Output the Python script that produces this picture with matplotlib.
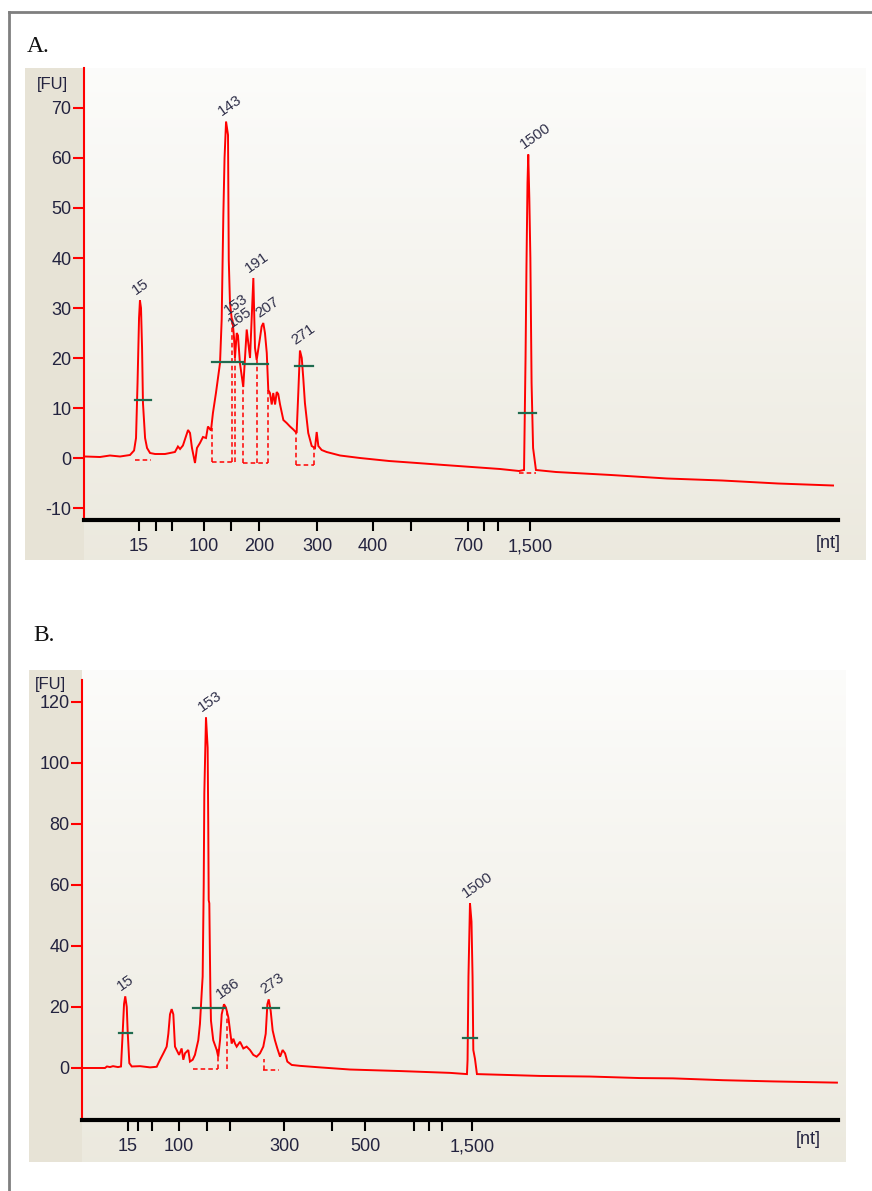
import numpy as np
import matplotlib
matplotlib.use('Agg')
import matplotlib.pyplot as plt
from matplotlib import font_manager
from matplotlib.patches import Rectangle
from matplotlib.lines import Line2D

W, H = 872, 1191

# ---------------- Panel A data (migration time [s] vs fluorescence [FU]) ----------------
a_time = [19.07, 20.06, 20.72, 21.39, 22.05, 22.32, 22.45, 22.55, 22.65, 22.71,
          22.78, 22.85, 22.91, 23.05, 23.18, 23.38, 23.71, 24.37, 25.03, 25.23,
          25.37, 25.56, 25.90, 26.03, 26.16, 26.36, 26.49, 26.69, 26.89, 27.09,
          27.22, 27.42, 27.55, 27.75, 28.02, 28.13, 28.24, 28.32, 28.42, 28.55,
          28.60, 28.68, 28.79, 28.85, 28.95, 29.01, 29.13, 29.21, 29.34, 29.56,
          29.79, 30.01, 30.23, 30.34, 30.45, 30.67, 30.78, 30.89, 31.00, 31.12,
          31.22, 31.33, 31.45, 31.55, 31.67, 31.78, 31.88, 32.00, 32.22, 32.44,
          32.66, 32.88, 33.10, 33.21, 33.32, 33.44, 33.54, 33.65, 33.87, 34.10,
          34.32, 34.43, 34.54, 34.76, 35.09, 35.98, 37.30, 39.23, 41.08, 42.87,
          44.73, 46.59, 47.85, 48.18, 48.28, 48.34, 48.41, 48.46, 48.53, 48.60,
          48.68, 48.78, 48.97, 50.30, 53.95, 57.66, 61.31, 65.02, 68.67]
a_fu = [0.3, 0.2, 0.5, 0.3, 0.6, 1.5, 4, 15, 28, 31.5,
        30, 22, 11, 4, 2, 1, 0.8, 0.8, 1.2, 2.3,
        1.8, 2.5, 5.6, 5.0, 2, -1, 2, 3, 4.2, 4,
        6.3, 5.5, 9, 13, 19, 27.7, 48.6, 60, 67.3, 64.6,
        39.6, 31, 28, 27.5, 24, 20, 25, 24.5, 19, 14.2,
        25.7, 20, 36, 22, 19.6, 24, 26.3, 27, 25, 21,
        13.6, 13, 10.7, 13, 10.7, 13.2, 12.8, 10.7, 7.6, 7,
        6.3, 5.7, 5, 13, 21.5, 20, 16, 11, 5, 2.4,
        2, 5.2, 2.4, 1.6, 1.2, 0.5, 0, -0.6, -1, -1.4,
        -1.8, -2.2, -2.6, -2.4, 20, 38, 55, 60.7, 52, 40,
        15, 2, -2.4, -2.8, -3.4, -4.1, -4.5, -5.1, -5.5]

a_tick_pos = [22.65, 23.77, 24.84, 26.96, 28.75, 30.60, 34.45, 38.16, 40.68,
              44.46, 45.53, 46.45, 48.58]
a_tick_labels = ['15', '', '', '100', '', '200', '300', '400', '', '700', '', '', '1,500']
a_yticks = [-10, 0, 10, 20, 30, 40, 50, 60, 70]

a_peak_labels = ['15', '143', '153', '165', '191', '207', '271', '1500']
a_peak_time = [22.71, 28.42, 28.85, 29.13, 30.23, 30.89, 33.32, 48.46]
a_peak_fu = [31.5, 67.3, 27.5, 25, 36, 27, 21.5, 60.7]

a_marker_start = [22.38, 27.49, 29.54, 32.99, 47.85]
a_marker_end = [23.42, 29.54, 31.20, 34.19, 48.97]
a_marker_fu = [11.6, 19.3, 18.9, 18.5, 9.0]

a_base_start = [22.38, 27.47, 29.56, 33.06, 47.85]
a_base_end = [23.42, 29.01, 31.22, 34.27, 48.97]
a_base_fu = [-0.4, -0.7, -1.0, -1.4, -2.9]

a_cut_time = [27.47, 28.79, 29.01, 29.56, 30.45, 31.22, 33.06, 34.27]
a_cut_low = [-0.7, -0.7, -0.7, -1.0, -1.0, -1.0, -1.4, -1.4]
a_cut_high = [6, 28, 20, 14.2, 19.6, 13.6, 5, 2]

# ---------------- Panel B data ----------------
b_time = [19.00, 20.52, 20.65, 20.85, 21.05, 21.38, 21.58, 21.69, 21.78, 21.86,
          21.96, 22.02, 22.13, 22.29, 22.84, 23.50, 23.94, 24.16, 24.38, 24.60,
          24.71, 24.82, 24.93, 25.04, 25.15, 25.26, 25.42, 25.59, 25.70, 25.81,
          26.03, 26.14, 26.32, 26.47, 26.69, 26.80, 26.92, 26.98, 27.05, 27.09,
          27.20, 27.31, 27.35, 27.38, 27.42, 27.49, 27.53, 27.68, 27.91, 28.01,
          28.13, 28.24, 28.39, 28.52, 28.68, 28.79, 28.90, 29.01, 29.12, 29.23,
          29.45, 29.67, 29.89, 30.11, 30.33, 30.55, 30.77, 30.99, 31.15, 31.26,
          31.35, 31.48, 31.61, 31.76, 31.92, 32.10, 32.27, 32.43, 32.58, 32.87,
          33.42, 34.74, 36.72, 40.03, 43.34, 44.46, 44.50, 44.56, 44.66, 44.76,
          44.83, 44.88, 44.99, 45.12, 49.29, 52.60, 55.90, 58.09, 61.39, 64.70,
          68.93]
b_fu = [0, 0, 0.5, 0.3, 0.6, 0.3, 0.5, 11.5, 21, 23.5,
        20, 12, 1.6, 0.5, 0.6, 0.2, 0.4, 2.7, 4.8, 7,
        11.2, 17.6, 19.3, 17.6, 7, 5.9, 4.3, 6.4, 2.7, 4.8,
        5.9, 2.1, 2.7, 4.3, 9.1, 14.4, 25, 30, 60, 90,
        115, 105, 80, 55, 54, 25, 15.5, 9.1, 5.9, 3.7,
        9.1, 17.6, 20.9, 19.8, 16.6, 12.3, 8, 9.6, 8, 7,
        8.6, 6.4, 7, 5.9, 4.3, 3.7, 4.8, 7, 11.2, 20.9,
        22.5, 18.7, 12.3, 9.1, 6.4, 3.7, 5.9, 4.8, 2.1, 1.0,
        0.7, 0.2, -0.5, -1.0, -1.6, -2, 2.6, 30, 54, 48,
        30, 5.9, 3, -2, -2.6, -2.8, -3.3, -3.4, -4.0, -4.4,
        -4.8]

b_tick_pos = [22.04, 22.70, 23.63, 25.42, 27.27, 28.79, 32.36, 35.53, 37.72,
              40.96, 41.95, 42.81, 44.79]
b_tick_labels = ['15', '', '', '100', '', '', '300', '', '500', '', '', '', '1,500']
b_yticks = [0, 20, 40, 60, 80, 100, 120]

b_peak_labels = ['15', '153', '186', '273', '1500']
b_peak_time = [21.86, 27.20, 28.39, 31.35, 44.66]
b_peak_fu = [23.5, 115, 20.9, 22.5, 54]

b_marker_start = [21.45, 26.34, 30.97, 44.20]
b_marker_end = [22.31, 28.46, 32.03, 45.12]
b_marker_fu = [11.6, 19.7, 19.7, 9.8]

b_base_start = [26.34, 30.97]
b_base_end = [28.01, 32.03]
b_base_fu = [-0.2, -0.5]

b_cut_time = [28.01, 28.56, 31.04]
b_cut_low = [-0.2, -0.2, -0.5]
b_cut_high = [7, 19.7, 3]

# ---------------- styling ----------------
names = {f.name for f in font_manager.fontManager.ttflist}
SANS = 'Liberation Sans Narrow' if 'Liberation Sans Narrow' in names else 'Liberation Sans'
SERIF = 'Liberation Serif'
plt.rcParams['font.family'] = [SANS, 'DejaVu Sans']

TRACE = '#ff0000'
GREEN = '#1f6b4f'
TXT = '#23233f'

fig = plt.figure(figsize=(W / 100, H / 100), dpi=100)
fig.patch.set_facecolor('white')


def rect(x0, y0, x1, y1):
    return [x0 / W, 1 - y1 / H, (x1 - x0) / W, (y1 - y0) / H]


# outer frame (top and left)
fig.add_artist(Line2D([9 / W, 9 / W], [0, 1 - 12 / H], color='#7f7f7f', lw=2))
fig.add_artist(Line2D([9 / W, 1], [1 - 12 / H, 1 - 12 / H], color='#7f7f7f', lw=2))


def background(box, axis_x):
    x0, y0, x1, y1 = box
    bg = fig.add_axes(rect(*box), zorder=0)
    bg.set_axis_off()
    top = np.array([0.988, 0.988, 0.982])
    bot = np.array([0.925, 0.914, 0.872])
    g = np.linspace(0, 1, 256)[:, None, None]
    img = top * (1 - g) + bot * g
    bg.imshow(img, aspect='auto', extent=[0, 1, 0, 1], interpolation='bilinear')
    bg.add_patch(Rectangle((0, 0), (axis_x - x0) / (x1 - x0), 1,
                           transform=bg.transAxes, color='#e7e3d6', lw=0))
    bg.set_xlim(0, 1)
    bg.set_ylim(0, 1)


def panel(bg_box, ax_box, ylim, time, fu, yticks, tpos, tlab,
          plab, ptime, pfu, ms, me, mf, bs, be, bf, ct, cl, ch):
    background(bg_box, ax_box[0])
    ax = fig.add_axes(rect(*ax_box), zorder=2)
    ax.set_facecolor('none')
    ax.set_xlim(19, 69)
    ax.set_ylim(*ylim)
    for s in ('top', 'right'):
        ax.spines[s].set_visible(False)
    ax.spines['left'].set_color(TRACE)
    ax.spines['left'].set_linewidth(1.5)
    ax.spines['bottom'].set_color('black')
    ax.spines['bottom'].set_linewidth(3)
    ax.set_yticks(yticks)
    ax.set_yticklabels([str(v) for v in yticks])
    ax.set_xticks(tpos)
    ax.set_xticklabels(tlab)
    ax.tick_params(axis='y', direction='out', length=8, width=1.5, color=TRACE,
                   labelcolor=TXT, labelsize=13, pad=1)
    ax.tick_params(axis='x', direction='out', length=8, width=1.5, color='black',
                   labelcolor=TXT, labelsize=13, pad=5)
    # trace
    ax.plot(time, fu, color=TRACE, lw=1.4, zorder=3, solid_joinstyle='miter')
    # baselines and cuts (dashed)
    for x0, x1, y in zip(bs, be, bf):
        ax.plot([x0, x1], [y, y], color=TRACE, lw=1.1, ls=(0, (3, 2)), zorder=3)
    for x, y0, y1 in zip(ct, cl, ch):
        ax.plot([x, x], [y0, y1], color=TRACE, lw=1.1, ls=(0, (3, 2)), zorder=3)
    # peak width markers
    for x0, x1, y in zip(ms, me, mf):
        ax.plot([x0, x1], [y, y], color=GREEN, lw=1.6, zorder=4)
    # peak labels
    for t, x, y in zip(plab, ptime, pfu):
        ax.annotate(t, xy=(x, y), xytext=(-2, 2), textcoords='offset points',
                    rotation=35, rotation_mode='anchor', ha='left', va='bottom',
                    fontsize=11, color='#30304a', zorder=5)
    return ax


# Panel A
panel((25, 68, 865, 560), (84, 68, 838, 520), (-12.4, 78.0), a_time, a_fu, a_yticks,
      a_tick_pos, a_tick_labels, a_peak_labels, a_peak_time, a_peak_fu,
      a_marker_start, a_marker_end, a_marker_fu, a_base_start, a_base_end, a_base_fu,
      a_cut_time, a_cut_low, a_cut_high)
fig.text(27 / W, 1 - 52 / H, 'A.', family=SERIF, fontsize=17, color='#111111',
         ha='left', va='baseline')
fig.text(52 / W, 1 - 85 / H, '[FU]', fontsize=12, color=TXT, ha='center', va='center')
fig.text(828 / W, 1 - 543 / H, '[nt]', fontsize=13, color=TXT, ha='center', va='center')

# Panel B
panel((29, 670, 845, 1162), (82, 680, 838, 1120), (-17.05, 127.2), b_time, b_fu, b_yticks,
      b_tick_pos, b_tick_labels, b_peak_labels, b_peak_time, b_peak_fu,
      b_marker_start, b_marker_end, b_marker_fu, b_base_start, b_base_end, b_base_fu,
      b_cut_time, b_cut_low, b_cut_high)
fig.text(33 / W, 1 - 641 / H, 'B.', family=SERIF, fontsize=17, color='#111111',
         ha='left', va='baseline')
fig.text(50 / W, 1 - 684 / H, '[FU]', fontsize=12, color=TXT, ha='center', va='center')
fig.text(808 / W, 1 - 1140 / H, '[nt]', fontsize=13, color=TXT, ha='center', va='center')

fig.savefig('out.png', dpi=100)
